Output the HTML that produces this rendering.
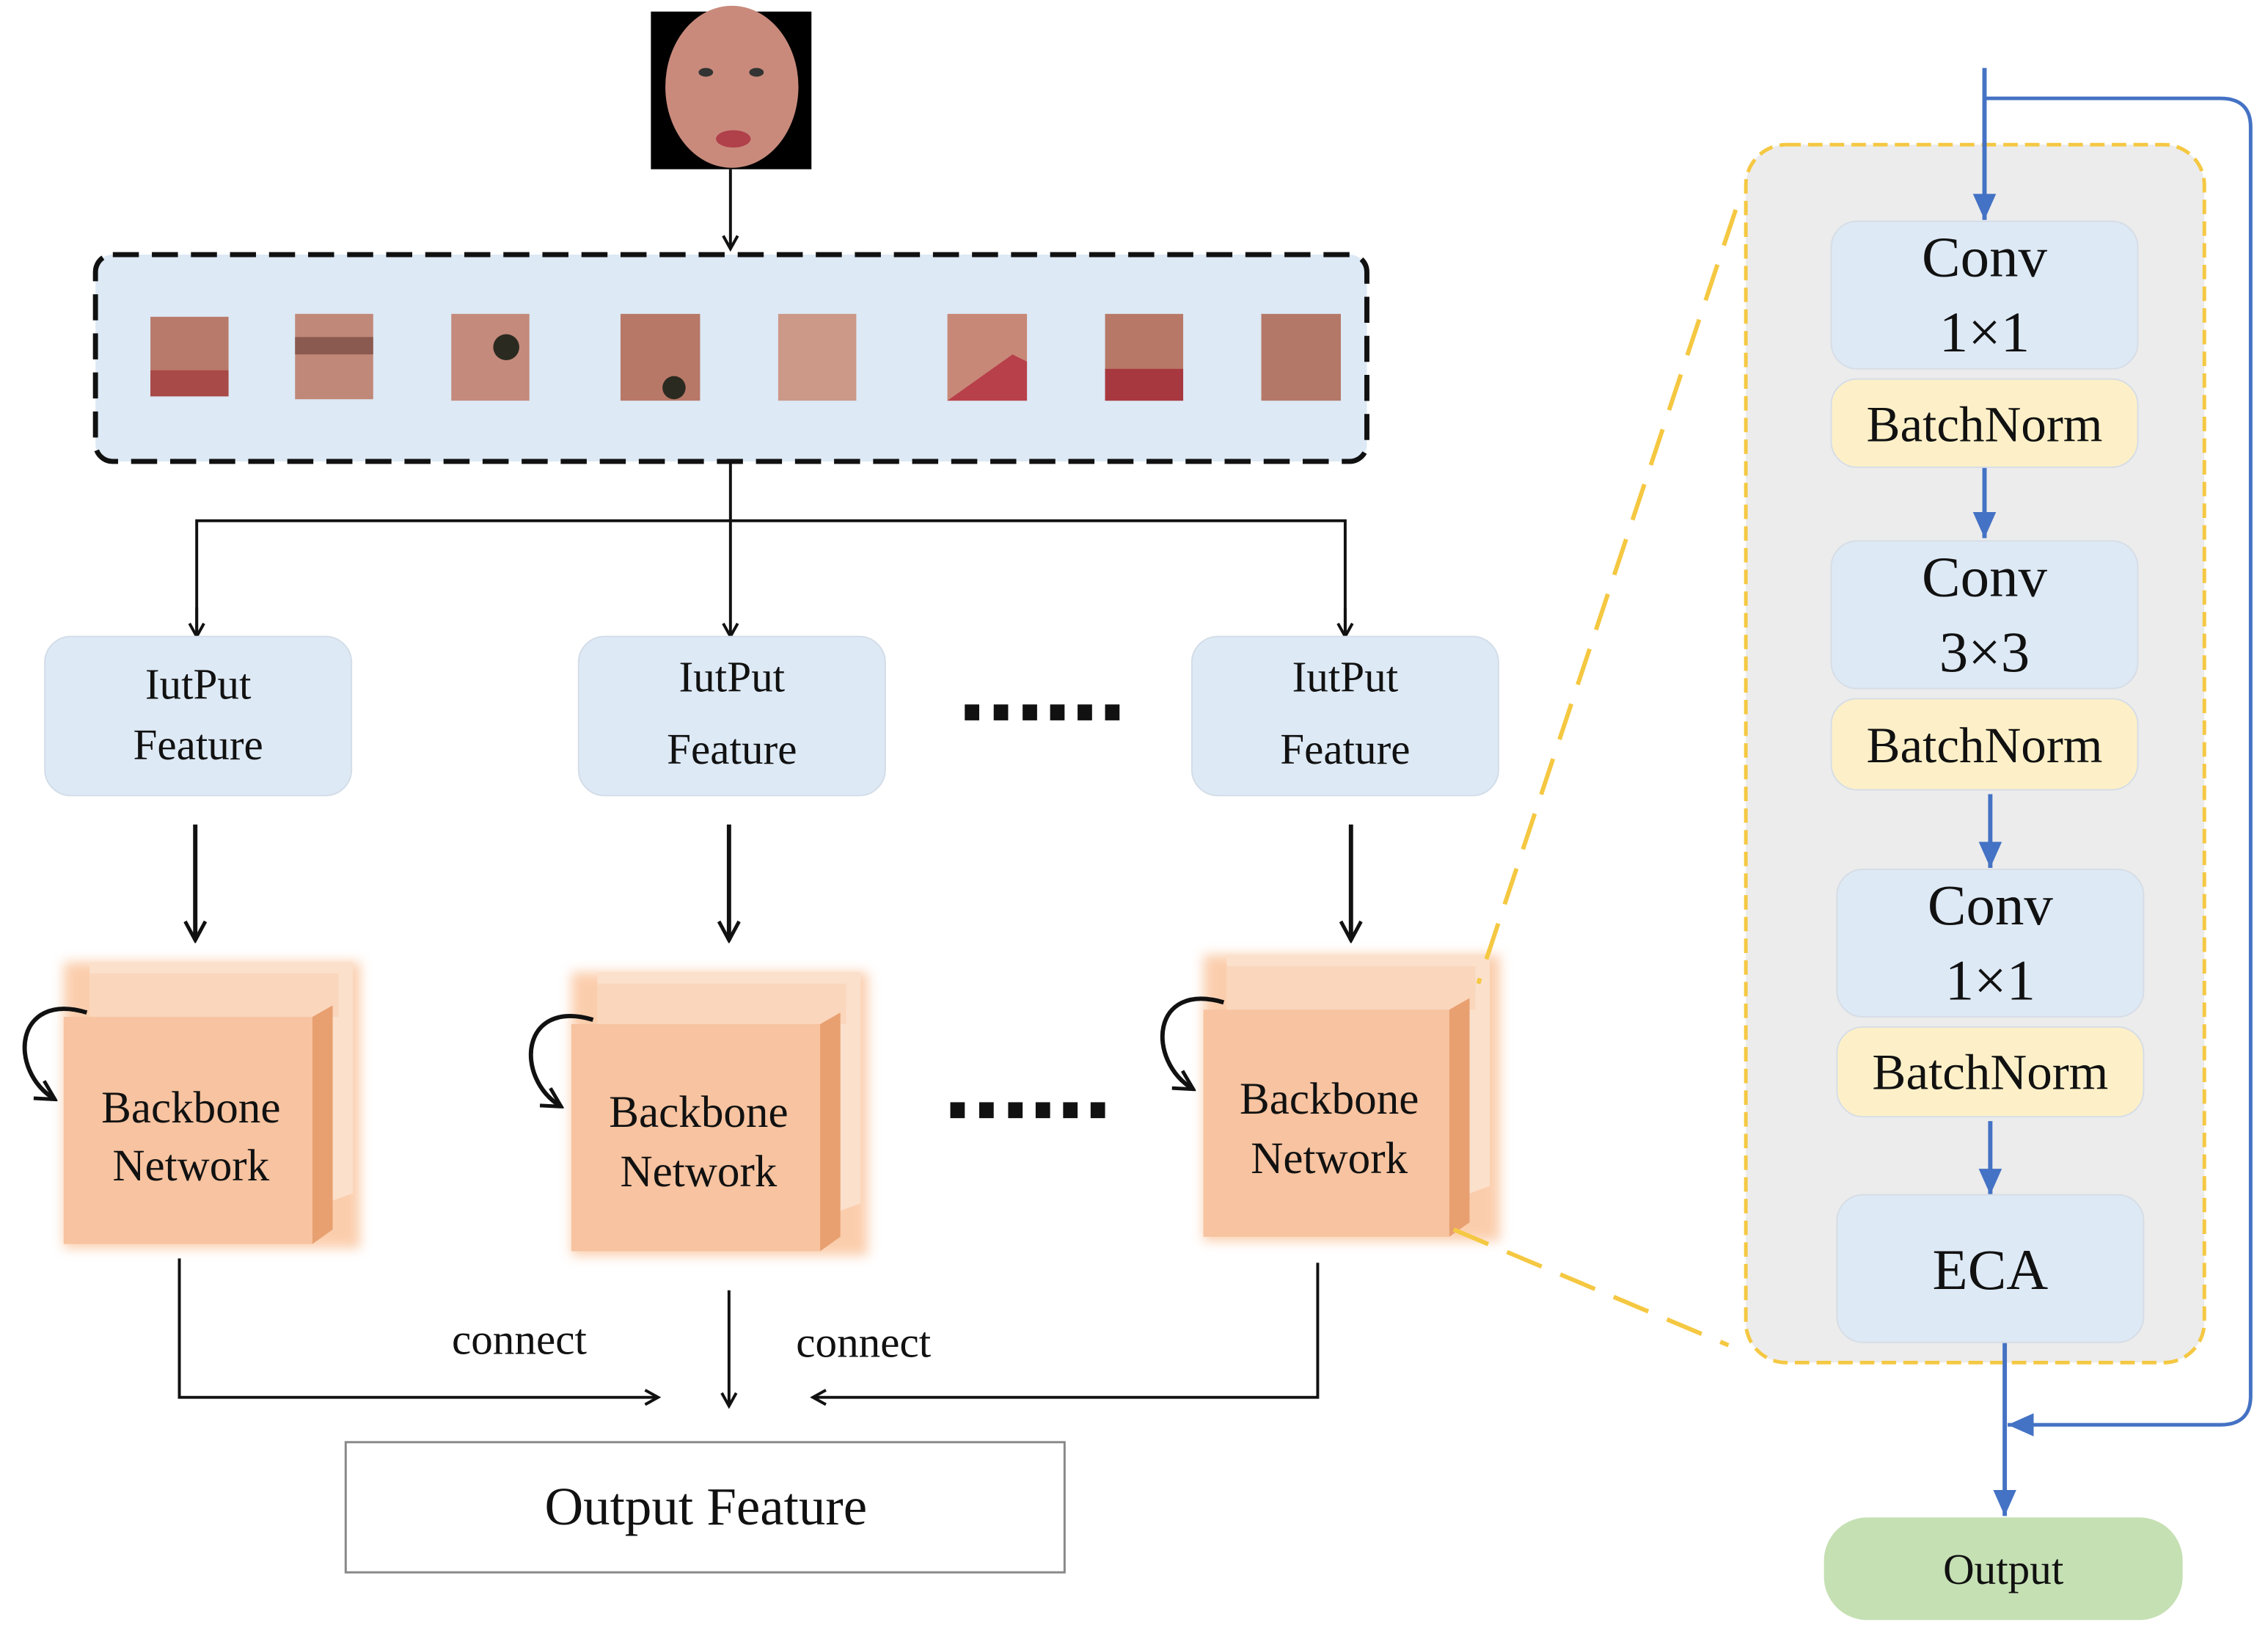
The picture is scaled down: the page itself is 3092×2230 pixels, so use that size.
<!DOCTYPE html>
<html><head><meta charset="utf-8"><style>
html,body{margin:0;padding:0;background:#fff;}
svg{display:block;}
text{font-family:"Liberation Serif",serif;fill:#111;text-anchor:middle;}
</style></head><body>
<svg width="3092" height="2230" viewBox="0 0 1568 1131" preserveAspectRatio="none" xmlns="http://www.w3.org/2000/svg">
<defs>
<marker id="ah" markerWidth="12" markerHeight="12" refX="10" refY="6" orient="auto" markerUnits="userSpaceOnUse"><path d="M1,1 L10,6 L1,11" fill="none" stroke="#111" stroke-width="2"/></marker>
<marker id="ahb" markerWidth="20" markerHeight="16" refX="18" refY="8" orient="auto" markerUnits="userSpaceOnUse"><path d="M0,0 L18,8 L0,16 Z" fill="#4472c4"/></marker>
<marker id="ahk" markerWidth="16" markerHeight="16" refX="14" refY="8" orient="auto" markerUnits="userSpaceOnUse"><path d="M1,1 L14,8 L1,15" fill="none" stroke="#111" stroke-width="2.5"/></marker>
<filter id="glow" x="-20%" y="-20%" width="140%" height="140%"><feGaussianBlur stdDeviation="4"/></filter>
</defs>
<!-- face -->
<rect x="450" y="8" width="111" height="109" fill="#000"/>
<ellipse cx="506" cy="60" rx="46" ry="56" fill="#c98a7c"/>
<ellipse cx="488" cy="50" rx="5" ry="3" fill="#333"/><ellipse cx="523" cy="50" rx="5" ry="3" fill="#333"/>
<ellipse cx="507" cy="96" rx="12" ry="6" fill="#b0404a"/>
<line x1="505" y1="117" x2="505" y2="172" stroke="#111" stroke-width="2" marker-end="url(#ah)"/>
<!-- patch box -->
<rect x="66" y="176" width="879" height="143" rx="12" fill="#dde9f5" stroke="#111" stroke-width="3.5" stroke-dasharray="18,9"/>
<g>
<rect x="104" y="219" width="54" height="55" fill="#b87a6a"/><rect x="104" y="256" width="54" height="18" fill="#a84a48"/>
<rect x="204" y="217" width="54" height="59" fill="#c08878"/><rect x="204" y="233" width="54" height="12" fill="#8a5a50"/>
<rect x="312" y="217" width="54" height="60" fill="#c48a7c"/><circle cx="350" cy="240" r="9" fill="#2a2a20"/>
<rect x="429" y="217" width="55" height="60" fill="#b87868"/><circle cx="466" cy="268" r="8" fill="#2a2a20"/>
<rect x="538" y="217" width="54" height="60" fill="#cc9888"/>
<rect x="655" y="217" width="55" height="60" fill="#c88878"/><path d="M655,277 L700,245 L710,250 L710,277 Z" fill="#b8404a"/>
<rect x="764" y="217" width="54" height="60" fill="#b87868"/><rect x="764" y="255" width="54" height="22" fill="#a83840"/>
<rect x="872" y="217" width="55" height="60" fill="#b47868"/>
</g>
<!-- split -->
<g stroke="#111" stroke-width="2" fill="none">
<line x1="505" y1="319" x2="505" y2="440" marker-end="url(#ah)"/>
<polyline points="136,440 136,360 930,360 930,440"/>
<line x1="136" y1="420" x2="136" y2="440" marker-end="url(#ah)"/>
<line x1="930" y1="420" x2="930" y2="440" marker-end="url(#ah)"/>
</g>
<!-- input features -->
<g fill="#dde9f5" stroke="#d3dde8" stroke-width="1">
<rect x="31" y="440" width="212" height="110" rx="18"/>
<rect x="400" y="440" width="212" height="110" rx="18"/>
<rect x="824" y="440" width="212" height="110" rx="18"/>
</g>
<g font-size="30">
<text x="137" y="483">IutPut</text><text x="137" y="525">Feature</text>
<text x="506" y="478">IutPut</text><text x="506" y="528">Feature</text>
<text x="930" y="478">IutPut</text><text x="930" y="528">Feature</text>
</g>
<g fill="#111">
<rect x="667" y="487" width="10" height="11"/><rect x="687" y="487" width="10" height="11"/><rect x="707" y="487" width="10" height="11"/><rect x="726" y="487" width="10" height="11"/><rect x="745" y="487" width="10" height="11"/><rect x="764" y="487" width="10" height="11"/>
<rect x="657" y="762" width="10" height="11"/><rect x="677" y="762" width="10" height="11"/><rect x="697" y="762" width="10" height="11"/><rect x="716" y="762" width="10" height="11"/><rect x="735" y="762" width="10" height="11"/><rect x="754" y="762" width="10" height="11"/>
</g>
<g stroke="#111" stroke-width="3" fill="none">
<line x1="135" y1="570" x2="135" y2="650" marker-end="url(#ahk)"/>
<line x1="504" y1="570" x2="504" y2="650" marker-end="url(#ahk)"/>
<line x1="934" y1="570" x2="934" y2="650" marker-end="url(#ahk)"/>
</g>
<!-- backbones -->
<g>
<g transform="translate(44,665)">
<rect x="0" y="0" width="205" height="198" fill="#f9b98a" filter="url(#glow)" opacity="0.7"/>
<path d="M18,0 L200,0 L200,160 L186,165 L186,38 L18,38 Z" fill="#fbe0cc"/>
<rect x="18" y="8" width="172" height="30" fill="#fad6bc"/>
<rect x="0" y="38" width="172" height="157" fill="#f7c3a0"/>
<path d="M172,38 L186,30 L186,185 L172,195 Z" fill="#e8a070"/>
</g>
<g transform="translate(395,672)">
<rect x="0" y="0" width="205" height="196" fill="#f9b98a" filter="url(#glow)" opacity="0.7"/>
<path d="M18,0 L200,0 L200,160 L186,165 L186,36 L18,36 Z" fill="#fbe0cc"/>
<rect x="18" y="8" width="172" height="28" fill="#fad6bc"/>
<rect x="0" y="36" width="172" height="157" fill="#f7c3a0"/>
<path d="M172,36 L186,28 L186,183 L172,193 Z" fill="#e8a070"/>
</g>
<g transform="translate(832,660)">
<rect x="0" y="0" width="205" height="198" fill="#f9b98a" filter="url(#glow)" opacity="0.7"/>
<path d="M16,0 L198,0 L198,160 L184,165 L184,38 L16,38 Z" fill="#fbe0cc"/>
<rect x="16" y="8" width="172" height="30" fill="#fad6bc"/>
<rect x="0" y="38" width="170" height="157" fill="#f7c3a0"/>
<path d="M170,38 L184,30 L184,185 L170,195 Z" fill="#e8a070"/>
</g>
</g>
<g font-size="31">
<text x="132" y="776">Backbone</text><text x="132" y="816">Network</text>
<text x="483" y="779">Backbone</text><text x="483" y="820">Network</text>
<text x="919" y="770">Backbone</text><text x="919" y="811">Network</text>
</g>
<g stroke="#111" stroke-width="3" fill="none">
<path d="M60,700 C10,685 5,740 38,760" marker-end="url(#ahk)"/>
<path d="M410,705 C360,690 355,745 388,765" marker-end="url(#ahk)"/>
<path d="M846,693 C796,678 792,733 825,753" marker-end="url(#ahk)"/>
</g>
<!-- bottom -->
<g stroke="#111" stroke-width="2" fill="none">
<polyline points="124,870 124,966 455,966" marker-end="url(#ah)"/>
<line x1="504" y1="892" x2="504" y2="972" marker-end="url(#ah)"/>
<polyline points="911,873 911,966 562,966" marker-end="url(#ah)"/>
</g>
<text x="359" y="936" font-size="30">connect</text>
<text x="597" y="938" font-size="30">connect</text>
<rect x="239" y="997" width="497" height="90" fill="#fff" stroke="#888" stroke-width="1.5"/>
<text x="488" y="1054" font-size="37">Output Feature</text>
<!-- right panel -->
<line x1="1200" y1="145" x2="1022" y2="680" stroke="#f5c842" stroke-width="3" stroke-dasharray="26,14"/>
<line x1="1005" y1="850" x2="1195" y2="930" stroke="#f5c842" stroke-width="3" stroke-dasharray="26,14"/>
<rect x="1207" y="100" width="317" height="842" rx="28" fill="#ececec" stroke="#f5c842" stroke-width="2.5" stroke-dasharray="10,5"/>
<g stroke="#4472c4" fill="none">
<line x1="1372" y1="47" x2="1372" y2="152" stroke-width="3" marker-end="url(#ahb)"/>
<path d="M1372,68 L1535,68 Q1556,68 1556,88 L1556,965 Q1556,985 1535,985 L1388,985" stroke-width="2.5" marker-end="url(#ahb)"/>
<line x1="1372" y1="323" x2="1372" y2="372" stroke-width="3" marker-end="url(#ahb)"/>
<line x1="1376" y1="549" x2="1376" y2="600" stroke-width="3" marker-end="url(#ahb)"/>
<line x1="1376" y1="775" x2="1376" y2="826" stroke-width="3" marker-end="url(#ahb)"/>
<line x1="1386" y1="928" x2="1386" y2="1048" stroke-width="3" marker-end="url(#ahb)"/>
</g>
<g stroke="#d6dde6" stroke-width="1">
<rect x="1266" y="153" width="212" height="102" rx="18" fill="#dde9f5"/>
<rect x="1266" y="262" width="212" height="61" rx="18" fill="#fdf0c8"/>
<rect x="1266" y="374" width="212" height="102" rx="18" fill="#dde9f5"/>
<rect x="1266" y="483" width="212" height="63" rx="18" fill="#fdf0c8"/>
<rect x="1270" y="601" width="212" height="102" rx="18" fill="#dde9f5"/>
<rect x="1270" y="710" width="212" height="62" rx="18" fill="#fdf0c8"/>
<rect x="1270" y="826" width="212" height="102" rx="18" fill="#dde9f5"/>
</g>
<rect x="1261" y="1049" width="248" height="71" rx="30" fill="#c5e0b3"/>
<g font-size="40">
<text x="1372" y="191">Conv</text><text x="1372" y="243">1×1</text>
<text x="1372" y="412">Conv</text><text x="1372" y="464">3×3</text>
<text x="1376" y="639">Conv</text><text x="1376" y="691">1×1</text>
<text x="1376" y="891">ECA</text>
</g>
<g font-size="35">
<text x="1372" y="305">BatchNorm</text>
<text x="1372" y="527">BatchNorm</text>
<text x="1376" y="753">BatchNorm</text>
</g>
<text x="1385" y="1095" font-size="30">Output</text>
</svg>
</body></html>
